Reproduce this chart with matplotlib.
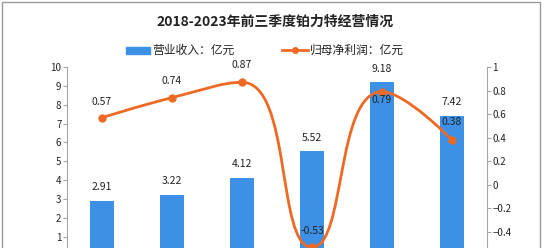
import numpy as np
import matplotlib.pyplot as plt
from matplotlib.patches import Rectangle, PathPatch
from matplotlib.path import Path
from matplotlib.lines import Line2D
from matplotlib.ticker import FuncFormatter

plt.rcParams['font.family'] = ['Noto Sans CJK SC', 'DejaVu Sans']

# data
years = ['2018', '2019', '2020', '2021', '2022', '2023']
revenue = [2.91, 3.22, 4.12, 5.52, 9.18, 7.42]        # 营业收入（亿元）
net_profit = [0.57, 0.74, 0.87, -0.53, 0.79, 0.38]    # 归母净利润（亿元）

BAR_BLUE = '#3C91E6'
LINE_ORANGE = '#EE6A24'
AXIS_GRAY = '#A6A6A6'
W, H = 551, 248


def smooth_path(ax, x, y, smooth=0.5):
    """Bezier path through the points, smoothed in screen space with clamped
    control points (no overshoot at local peaks)."""
    P = ax.transData.transform(np.column_stack([x, y]))
    n = len(P)
    after = [None] * n
    before = [None] * n
    after[0] = P[0].copy()
    before[-1] = P[-1].copy()
    for i in range(1, n - 1):
        p, prev, nxt = P[i], P[i - 1], P[i + 1]
        d0 = np.hypot(*(p - prev))
        d1 = np.hypot(*(nxt - p))
        r = d1 / (d0 + d1)
        nc = p + (nxt - prev) * smooth * r
        nc = np.clip(nc, np.minimum(nxt, p), np.maximum(nxt, p))
        c1 = p - (nc - p) * d0 / d1
        c1 = np.clip(c1, np.minimum(prev, p), np.maximum(prev, p))
        nc = p + (p - c1) * d1 / d0
        before[i], after[i] = c1, nc
    verts = [P[0]]
    codes = [Path.MOVETO]
    for i in range(n - 1):
        verts += [after[i], before[i + 1], P[i + 1]]
        codes += [Path.CURVE4] * 3
    verts = ax.transData.inverted().transform(np.array(verts))
    return Path(verts, codes)


fig = plt.figure(figsize=(W / 100, H / 100), dpi=100)

# outer frame of the original picture
fig.add_artist(Rectangle((2 / W, -0.2), 538 / W, 1.2 - 1.5 / H, transform=fig.transFigure,
                         fill=False, edgecolor='#9a9a9a', lw=1))

# plot area runs off the bottom edge like the reference crop
ax = fig.add_axes([67 / W, -7.6 / H, 420 / W, 188.6 / H])
x = np.arange(len(years))
ax.bar(x, revenue, width=0.35, color=BAR_BLUE, zorder=2)
ax.set_xlim(-0.5, len(years) - 0.5)
ax.set_ylim(0, 10)
ax.set_yticks(range(1, 11))   # the 0 tick falls below the cropped edge
ax.set_xticks([])
for s in ['top', 'right', 'bottom']:
    ax.spines[s].set_visible(False)
ax.spines['left'].set_color(AXIS_GRAY)
ax.tick_params(axis='y', length=3, color=AXIS_GRAY, labelsize=7, pad=1, labelcolor='#222222')

for xi, v in zip(x, revenue):
    ax.annotate(f'{v:.2f}', (xi, v), xytext=(0, 10), textcoords='offset points',
                ha='center', va='center', fontsize=7.5, color='#222222')

ax2 = ax.twinx()
ax2.set_xlim(-0.5, len(years) - 0.5)
ax2.set_ylim(-0.6, 1)
ax2.set_yticks(np.round(np.arange(-0.4, 1.01, 0.2), 1))
ax2.yaxis.set_major_formatter(FuncFormatter(lambda v, p: f'{v:g}'.replace('-', '\u2212')))
for s in ['top', 'left', 'bottom']:
    ax2.spines[s].set_visible(False)
ax2.spines['right'].set_color(AXIS_GRAY)
ax2.tick_params(axis='y', length=3, color=AXIS_GRAY, labelsize=7, pad=1, labelcolor='#222222')

ax2.add_patch(PathPatch(smooth_path(ax2, x, net_profit), fill=False,
                        edgecolor=LINE_ORANGE, lw=2, capstyle='round', zorder=3))
ax2.plot(x, net_profit, 'o', ms=5, color=LINE_ORANGE, zorder=4)

label_offsets = [11, 12, 12.5, 12, -6, 13]
for xi, v, off in zip(x, net_profit, label_offsets):
    ax2.annotate(f'{v:.2f}', (xi, v), xytext=(0, off), textcoords='offset points',
                 ha='center', va='center', fontsize=7.5, color='#222222', zorder=5)

# title
fig.text(0.5, 1 - 22 / H, '2018-2023年前三季度铂力特经营情况', ha='center', va='center',
         fontsize=10, fontweight='bold', color='#222222')

# legend drawn by hand to match placement
ly = 1 - 50 / H
fig.add_artist(Rectangle((126 / W, ly - 3.5 / H), 24 / W, 7 / H, transform=fig.transFigure,
                         color=BAR_BLUE))
fig.text(152 / W, ly, '营业收入：亿元', ha='left', va='center', fontsize=8.5, color='#222222')
fig.add_artist(Line2D([282 / W, 308 / W], [ly, ly], transform=fig.transFigure,
                      color=LINE_ORANGE, lw=2))
fig.add_artist(Line2D([295 / W], [ly], transform=fig.transFigure,
                      color=LINE_ORANGE, marker='o', ms=4))
fig.text(310 / W, ly, '归母净利润：亿元', ha='left', va='center', fontsize=8.5, color='#222222')

fig.savefig('out.png', dpi=100)
